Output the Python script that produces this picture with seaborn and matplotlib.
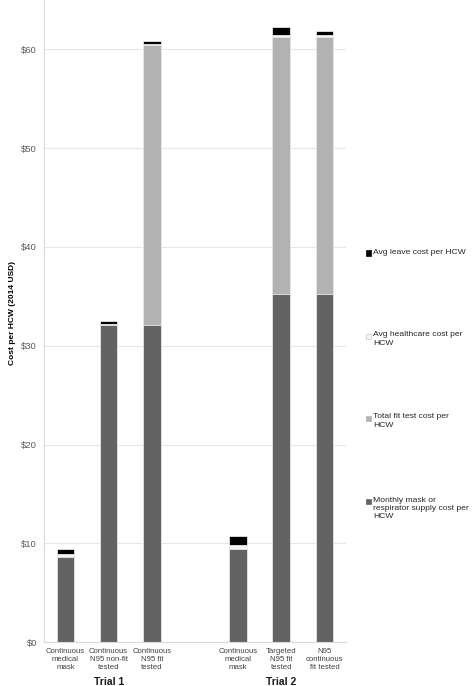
import numpy as np
import pandas as pd
import matplotlib
matplotlib.use("Agg")
import matplotlib.pyplot as plt
from matplotlib.patches import Rectangle
import seaborn as sns

# ---- data ----
slots = ["T1_mask", "T1_n95_nonfit", "T1_n95_fit", "gap", "T2_mask", "T2_targeted", "T2_continuous"]
tick_labels = ["Continuous\nmedical\nmask", "Continuous\nN95 non-fit\ntested", "Continuous\nN95 fit\ntested", "",
               "Continuous\nmedical\nmask", "Targeted\nN95 fit\ntested", "N95\ncontinuous\nfit tested"]
supply = [8.58, 32.05, 32.10, np.nan, 9.39, 35.19, 35.19]
fittest = [0.0, 0.0, 28.30, np.nan, 0.0, 26.08, 26.08]
health = [0.33, 0.17, 0.17, np.nan, 0.40, 0.23, 0.16]
leave = [0.47, 0.30, 0.27, np.nan, 1.00, 0.78, 0.45]
trials = ["Trial 1", "Trial 2"]
series_names = ["Avg leave cost per HCW", "Avg healthcare cost per\nHCW", "Total fit test cost per\nHCW",
                "Monthly mask or\nrespirator supply cost per\nHCW"]
colors = ["#000000", "#f4f4f4", "#b2b2b2", "#636363"]

df = pd.DataFrame({"slot": slots, "supply": supply, "fit": fittest, "health": health, "leave": leave})
df["c1"] = df["supply"]
df["c2"] = df["c1"] + df["fit"]
df["c3"] = df["c2"] + df["health"]
df["c4"] = df["c3"] + df["leave"]
plot_df = df[df["slot"] != "gap"]

sns.set_theme(style="white")
plt.rcParams["font.family"] = ["Liberation Sans", "DejaVu Sans"]

fig = plt.figure(figsize=(4.72, 6.86), dpi=100)
ax = fig.add_axes([0.093, 0.064, 0.640, 0.936])

for col, color in zip(["c4", "c3", "c2", "c1"], colors):
    sns.barplot(data=plot_df, x="slot", y=col, order=slots, color=color, width=0.41,
                edgecolor="#e8e8e8", linewidth=0.6, saturation=1, ax=ax, errorbar=None)

ax.set_xlim(-0.5, 6.5)
ax.set_ylim(0, 65)
ax.set_yticks(np.arange(0, 61, 10))
ax.set_yticklabels([f"${v}" for v in range(0, 61, 10)], fontsize=6.8, color="#595959")
ax.yaxis.grid(True, color="#e6e6e6", linewidth=0.8)
ax.set_axisbelow(True)
ax.set_xticks(range(7))
ax.set_xticklabels(tick_labels, fontsize=5.6, color="#404040", linespacing=1.2)
ax.tick_params(axis="x", length=0, pad=4)
ax.tick_params(axis="y", length=0, pad=5)
ax.set_xticks(np.arange(-0.5, 7, 1), minor=True)
ax.tick_params(axis="x", which="minor", length=3, color="#d9d9d9", width=0.8)
ax.set_xlabel("")
ax.set_ylabel("Cost per HCW (2014 USD)", fontsize=6.0, fontweight="bold", color="#000000")
ax.yaxis.set_label_coords(-0.093, 0.512)
for s in ["top", "right"]:
    ax.spines[s].set_visible(False)
for s in ["left", "bottom"]:
    ax.spines[s].set_color("#d9d9d9")
    ax.spines[s].set_linewidth(0.8)

# trial group labels
for name, pos in zip(trials, [1, 5]):
    ax.text(pos, -0.0615, name, transform=ax.get_xaxis_transform(), ha="center", va="center",
            fontsize=7.5, fontweight="bold", color="#1a1a1a")

# legend
W, H = 472, 686
leg_y = [253, 336, 418, 501]
for name, color, yy in zip(series_names, colors, leg_y):
    fig.patches.append(Rectangle((366 / W, 1 - (yy + 2.5) / H), 5 / W, 5 / H, transform=fig.transFigure,
                                 facecolor=color, edgecolor="#c8c8c8" if color == "#f4f4f4" else color,
                                 linewidth=0.5, figure=fig))
    fig.text(373 / W, 1 - (yy - 4.5) / H, name, fontsize=6.1, color="#262626", va="top", ha="left",
             linespacing=1.25)

fig.savefig("out.png", dpi=100)
